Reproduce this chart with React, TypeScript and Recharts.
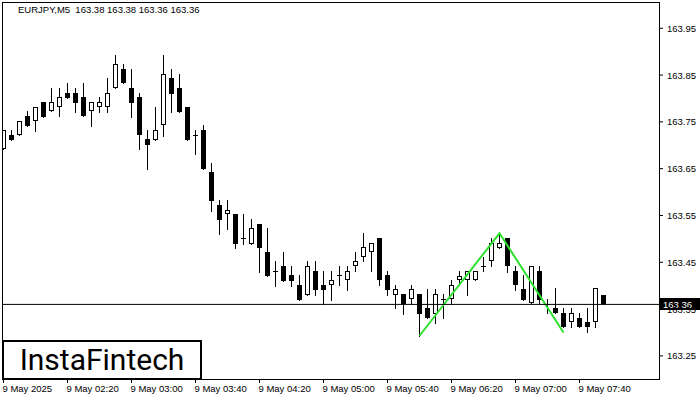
import React from 'react';
import { ComposedChart, Bar, Line, XAxis, YAxis, ReferenceLine } from 'recharts';

// EURJPY M5, 9 May 2025 01:40 .. 07:55 (one candle every 5 minutes)
const opens = [
  163.692, 163.722, 163.721, 163.763, 163.751, 163.793, 163.773, 163.781, 163.812, 163.812,
  163.803, 163.773, 163.781, 163.781, 163.822, 163.863, 163.822, 163.803, 163.713, 163.712,
  163.743, 163.844, 163.822, 163.782, 163.722, 163.733, 163.643, 163.572, 163.553, 163.553,
  163.502, 163.49, 163.532, 163.472, 163.431, 163.442, 163.422, 163.401, 163.381, 163.431,
  163.401, 163.401, 163.422, 163.412, 163.442, 163.461, 163.471, 163.501, 163.422, 163.381,
  163.382, 163.371, 163.382, 163.352, 163.34, 163.371, 163.371, 163.412, 163.412, 163.412,
  163.441, 163.452, 163.481, 163.501, 163.431, 163.392, 163.362, 163.431, 163.36, 163.353,
  163.341, 163.323, 163.332, 163.322, 163.323, 163.38,
];
const highs = [
  163.732, 163.733, 163.751, 163.773, 163.782, 163.793, 163.822, 163.822, 163.833, 163.822,
  163.833, 163.792, 163.803, 163.844, 163.893, 163.873, 163.863, 163.812, 163.732, 163.782,
  163.893, 163.863, 163.852, 163.782, 163.732, 163.743, 163.662, 163.583, 163.583, 163.553,
  163.553, 163.542, 163.532, 163.523, 163.453, 163.472, 163.442, 163.422, 163.453, 163.453,
  163.431, 163.431, 163.442, 163.442, 163.472, 163.513, 163.491, 163.501, 163.431, 163.401,
  163.382, 163.401, 163.382, 163.392, 163.392, 163.382, 163.412, 163.431, 163.431, 163.431,
  163.461, 163.501, 163.512, 163.501, 163.441, 163.423, 163.441, 163.441, 163.372, 163.394,
  163.352, 163.352, 163.341, 163.352, 163.394, 163.38,
];
const lows = [
  163.692, 163.712, 163.721, 163.742, 163.731, 163.761, 163.773, 163.762, 163.802, 163.772,
  163.762, 163.742, 163.772, 163.772, 163.822, 163.832, 163.761, 163.691, 163.65, 163.712,
  163.72, 163.772, 163.772, 163.712, 163.681, 163.65, 163.56, 163.511, 163.522, 163.481,
  163.49, 163.49, 163.43, 163.421, 163.399, 163.411, 163.399, 163.37, 163.381, 163.381,
  163.361, 163.37, 163.401, 163.391, 163.431, 163.453, 163.431, 163.401, 163.381, 163.352,
  163.34, 163.361, 163.293, 163.33, 163.321, 163.33, 163.361, 163.401, 163.381, 163.412,
  163.431, 163.441, 163.481, 163.43, 163.391, 163.369, 163.362, 163.362, 163.341, 163.341,
  163.311, 163.311, 163.311, 163.3, 163.312, 163.36,
];
const closes = [
  163.732, 163.712, 163.751, 163.742, 163.782, 163.761, 163.792, 163.803, 163.802, 163.791,
  163.762, 163.792, 163.792, 163.811, 163.873, 163.832, 163.791, 163.721, 163.701, 163.732,
  163.852, 163.81, 163.772, 163.712, 163.722, 163.65, 163.582, 163.541, 163.562, 163.49,
  163.502, 163.523, 163.481, 163.421, 163.431, 163.411, 163.411, 163.37, 163.442, 163.391,
  163.391, 163.412, 163.422, 163.431, 163.453, 163.482, 163.491, 163.412, 163.391, 163.392,
  163.361, 163.392, 163.34, 163.33, 163.382, 163.371, 163.401, 163.421, 163.431, 163.431,
  163.441, 163.491, 163.491, 163.441, 163.401, 163.369, 163.441, 163.37, 163.36, 163.341,
  163.311, 163.341, 163.311, 163.311, 163.394, 163.36,
];

// green double-top / pattern line
const patternIdx = [52, 62, 70];
const patternVals = [163.293, 163.512, 163.3];

const timeTickIdx = [0, 8, 16, 24, 32, 40, 48, 56, 64, 72];
const timeLabels = [
  '9 May 2025', '9 May 02:20', '9 May 03:00', '9 May 03:40', '9 May 04:20',
  '9 May 05:00', '9 May 05:40', '9 May 06:20', '9 May 07:00', '9 May 07:40',
];
const priceTicks = [163.25, 163.35, 163.45, 163.55, 163.65, 163.75, 163.85, 163.95];
const lastPrice = 163.36;
const header = 'EURJPY,M5  163.38 163.38 163.36 163.36';

const Y_MIN = 163.2006;
const Y_MAX = 164.004;
const PLOT_H = 376;
const PX = PLOT_H / (Y_MAX - Y_MIN);
const X_MIN = -0.0625;
const X_MAX = 81.9375;

const FONT = '"Liberation Sans", Arial, sans-serif';

const data = opens.map((o, i) => {
  const p = patternIdx.indexOf(i);
  return {
    i,
    o,
    h: highs[i],
    l: lows[i],
    c: closes[i],
    range: [lows[i], highs[i]],
    pat: p >= 0 ? patternVals[p] : null,
  };
});

const Candle = (props: any) => {
  const { x, y, width, height, payload } = props;
  if (x == null || y == null || !payload) return null;
  const cx = Math.floor(x + width / 2) + 0.5;
  const top = Math.min(y, y + height);
  const Y = (v: number) => Math.round(top + (payload.h - v) * PX);
  const yH = Y(payload.h);
  const yL = Y(payload.l);
  const yO = Y(payload.o);
  const yC = Y(payload.c);
  let body;
  if (yO === yC) {
    body = <line x1={cx - 2.5} x2={cx + 2.5} y1={yO + 0.5} y2={yO + 0.5} stroke="#000" />;
  } else if (payload.c > payload.o) {
    body = (
      <rect x={cx - 2} y={yC + 0.5} width={4} height={Math.max(1, yO - yC - 1)} fill="#fff" stroke="#000" />
    );
  } else {
    body = <rect x={cx - 2.5} y={yO} width={5} height={Math.max(1, yC - yO)} fill="#000" />;
  }
  return (
    <g shapeRendering="crispEdges">
      <line x1={cx} x2={cx} y1={yH} y2={yL + 1} stroke="#000" />
      {body}
    </g>
  );
};

const TimeTick = ({ x, payload }: any) => {
  const k = timeTickIdx.indexOf(payload.value);
  return (
    <text x={x - 1} y={392} fontSize={9.5} fontFamily={FONT} fill="#000" textAnchor="start">
      {timeLabels[k]}
    </text>
  );
};

const PriceTick = ({ x, y, payload }: any) => (
  <text x={x} y={y + 3.5} fontSize={9.5} fontFamily={FONT} fill="#000" textAnchor="start">
    {payload.value.toFixed(2)}
  </text>
);

const LastPriceLabel = ({ viewBox }: any) => {
  if (!viewBox) return null;
  const x0 = viewBox.x + viewBox.width + 1;
  const yy = Math.round(viewBox.y);
  return (
    <g>
      <rect x={x0} y={yy - 6} width={40} height={12} fill="#000" />
      <text x={x0 + 3} y={yy + 3.5} fontSize={9.5} fontFamily={FONT} fill="#fff">
        {lastPrice.toFixed(2)}
      </text>
    </g>
  );
};

export default function App() {
  return (
    <div style={{ position: 'absolute', left: 0, top: 0, width: 700, height: 400, background: '#fff' }}>
      <ComposedChart
        width={700}
        height={400}
        data={data}
        margin={{ top: 3, right: 0, bottom: 0, left: 3 }}
      >
        <XAxis
          type="number"
          dataKey="i"
          domain={[X_MIN, X_MAX]}
          allowDataOverflow
          ticks={timeTickIdx}
          interval={0}
          height={21}
          tickSize={4}
          axisLine={false}
          tickLine={{ stroke: '#000' }}
          tick={<TimeTick />}
        />
        <YAxis
          orientation="right"
          type="number"
          domain={[Y_MIN, Y_MAX]}
          allowDataOverflow
          ticks={priceTicks}
          interval={0}
          width={41}
          tickSize={4}
          tickMargin={4}
          axisLine={false}
          tickLine={{ stroke: '#000' }}
          tick={<PriceTick />}
        />
        <Bar dataKey="range" barSize={5} shape={<Candle />} isAnimationActive={false} />
        <Line
          dataKey="pat"
          type="linear"
          stroke="#2fe02f"
          strokeWidth={2}
          dot={false}
          connectNulls
          isAnimationActive={false}
        />
        <ReferenceLine y={lastPrice} stroke="#000" strokeWidth={1} label={<LastPriceLabel />} />
      </ComposedChart>
      <div
        style={{
          position: 'absolute', left: 2, top: 2, width: 658, height: 378,
          border: '1px solid #000', boxSizing: 'border-box', pointerEvents: 'none',
        }}
      />
      <div
        style={{
          position: 'absolute', left: 18, top: 4, fontFamily: FONT, fontSize: 9.5,
          color: '#000', whiteSpace: 'pre', lineHeight: '12px',
        }}
      >
        {header}
      </div>
      <div
        style={{
          position: 'absolute', left: 2, top: 340, width: 200, height: 40,
          border: '2px solid #000', boxSizing: 'border-box', background: '#fff',
          display: 'flex', alignItems: 'center', justifyContent: 'center',
          fontFamily: 'Roboto, sans-serif', fontSize: 30, fontWeight: 400, color: '#000',
          paddingBottom: 1,
        }}
      >
        InstaFintech
      </div>
    </div>
  );
}
